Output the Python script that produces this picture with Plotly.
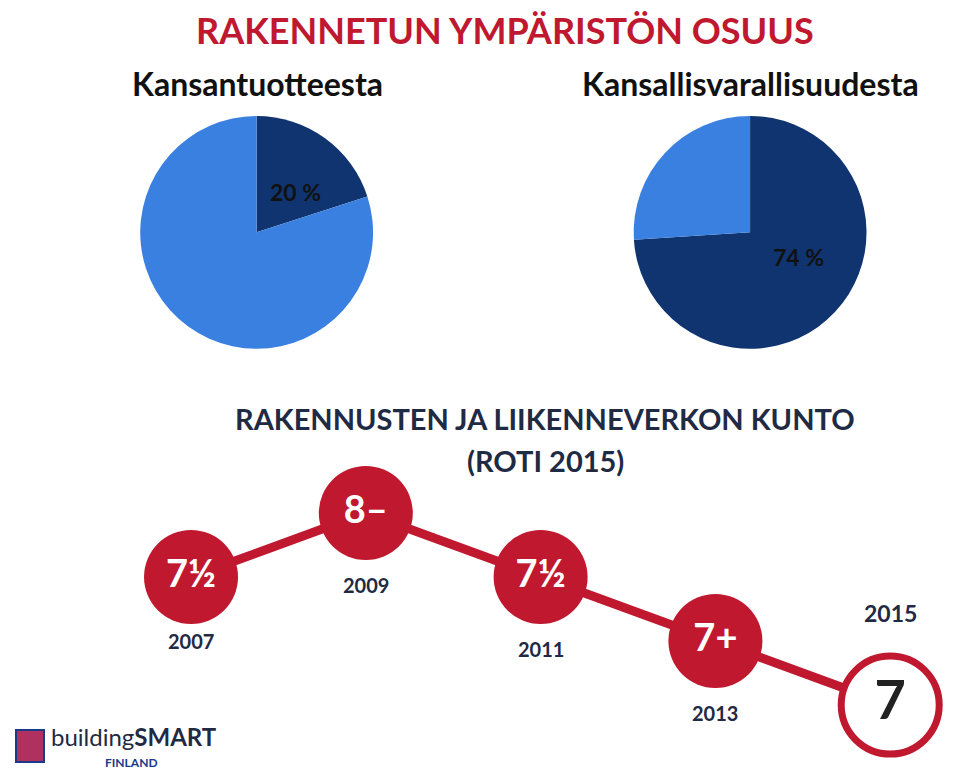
import plotly.graph_objects as go

# Data
pie_titles = ["Kansantuotteesta", "Kansallisvarallisuudesta"]
pie_shares = [20, 74]
years = [2007, 2009, 2011, 2013, 2015]
scores = [7.5, 7.75, 7.5, 7.25, 7.0]
score_labels = ["7½", "8–", "7½", "7+", "7"]

RED = "#c0182f"
DARK = "#10346f"
LIGHT = "#3a80e0"
FONT = "Lato"

fig = go.Figure()

for i, share in enumerate(pie_shares):
    cx = [0.259, 0.773][i]
    fig.add_trace(go.Pie(
        values=[share, 100 - share],
        marker=dict(colors=[DARK, LIGHT]),
        sort=False, direction="clockwise", rotation=0,
        textinfo="none", hoverinfo="skip", showlegend=False,
        domain=dict(x=[cx - 0.125, cx + 0.125], y=[0.558, 0.86]),
    ))

fig.add_trace(go.Scatter(
    x=years, y=scores, mode="lines",
    line=dict(color=RED, width=9), hoverinfo="skip", showlegend=False))
fig.add_trace(go.Scatter(
    x=years[:-1], y=scores[:-1], mode="markers+text",
    marker=dict(color=RED, size=94),
    text=[f"<b>{s}</b>" for s in score_labels[:-1]], textposition="middle center",
    textfont=dict(color="white", size=38, family=FONT),
    hoverinfo="skip", showlegend=False))
fig.add_trace(go.Scatter(
    x=years[-1:], y=scores[-1:], mode="markers+text",
    marker=dict(color="white", size=98, line=dict(color=RED, width=7)),
    text=[f"<b>{score_labels[-1]}</b>"], textposition="middle center",
    textfont=dict(color="#222222", size=54, family=FONT),
    hoverinfo="skip", showlegend=False))

year_offsets = [-0.25, -0.28, -0.28, -0.28, 0.36]
annotations = []
for yr, sc, off in zip(years, scores, year_offsets):
    annotations.append(dict(x=yr, y=sc + off, xref="x", yref="y", text=f"<b>{yr}</b>",
                            showarrow=False, font=dict(size=23 if yr == 2015 else 20,
                                                       color="#1f2a44", family=FONT)))

def paper_text(x, y, text, size, color="#111111", xanchor="center"):
    annotations.append(dict(x=x / 960, y=1 - y / 771, xref="paper", yref="paper",
                            text=text, showarrow=False, xanchor=xanchor, yanchor="middle",
                            font=dict(size=size, color=color, family=FONT), borderpad=0))

paper_text(497, 22, "<b>RAKENNETUN YMPÄRISTÖN OSUUS</b>", 36, RED)
paper_text(249, 76, f"<b>{pie_titles[0]}</b>", 32)
paper_text(742, 76, f"<b>{pie_titles[1]}</b>", 32)
paper_text(287, 184, f"<b>{pie_shares[0]} %</b>", 23)
paper_text(790, 249, f"<b>{pie_shares[1]} %</b>", 23)
paper_text(537, 410, "<b>RAKENNUSTEN JA LIIKENNEVERKON KUNTO</b>", 29, "#1f2a44")
paper_text(537, 452, "<b>(ROTI 2015)</b>", 29, "#1f2a44")
paper_text(42, 728, "building<b>SMART</b>", 24, "#1f2a44", "left")
paper_text(96, 754, "<b>FINLAND</b>", 12, "#1a3a8a", "left")

fig.update_xaxes(range=[2004.906, 2015.89], visible=False)
fig.update_yaxes(range=[6.711, 9.723], visible=False)
fig.update_layout(
    width=960, height=771, margin=dict(l=0, r=0, t=0, b=0),
    plot_bgcolor="white", paper_bgcolor="white",
    annotations=annotations,
    shapes=[dict(type="rect", xref="paper", yref="paper",
                 x0=8 / 960, x1=36 / 960, y0=1 - 754 / 771, y1=1 - 722 / 771,
                 fillcolor="#b03060", line=dict(color="#1a3a8a", width=2))],
)

fig.write_html("out.html")
